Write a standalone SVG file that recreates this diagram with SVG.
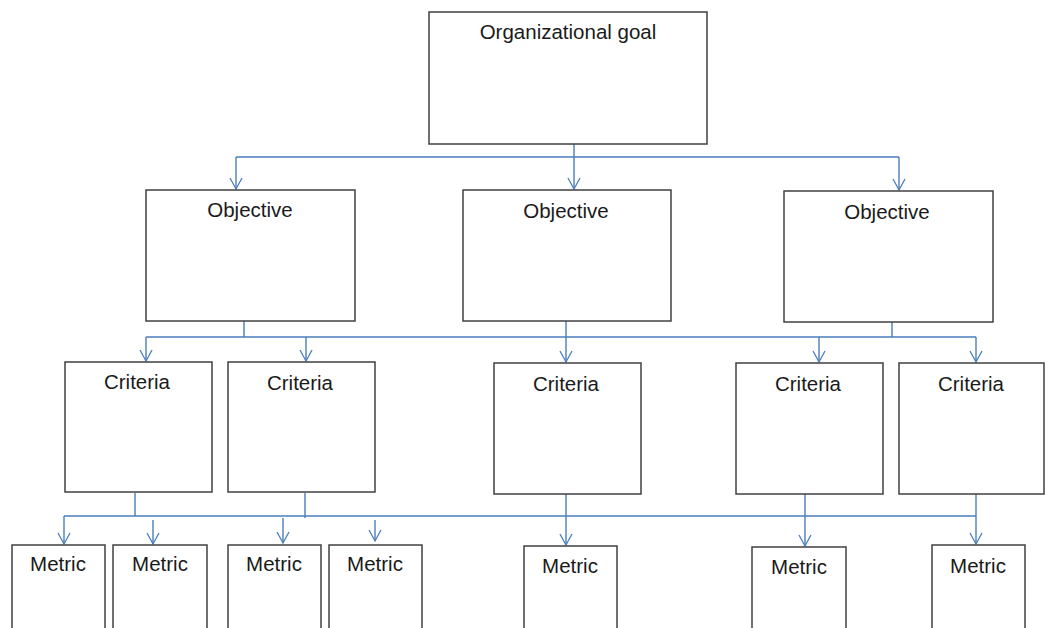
<svg xmlns="http://www.w3.org/2000/svg" width="1045" height="628" viewBox="0 0 1045 628">
  <defs>
    <!-- open V arrowhead, drawn along +x so orient="auto" points it down the line -->
    <marker id="arrow" markerWidth="14" markerHeight="14" refX="12" refY="7" orient="auto" markerUnits="userSpaceOnUse" viewBox="0 0 14 14">
      <polyline points="1,1 12,7 1,13" fill="none" stroke="#4a7ebb" stroke-width="1.3"/>
    </marker>
    <style>
      .box { fill: #ffffff; stroke: #404040; stroke-width: 1.5; }
      .lbl { font-family: "Liberation Sans", Arial, sans-serif; font-size: 20.5px; fill: #1a1a1a; text-anchor: middle; }
      .wire { fill: none; stroke: #4a7ebb; stroke-width: 1.4; }
      .arr { fill: none; stroke: #4a7ebb; stroke-width: 1.4; marker-end: url(#arrow); }
    </style>
  </defs>
  <rect width="1045" height="628" fill="#ffffff"/>

  <!-- connectors -->
  <g id="connectors">
    <!-- goal to objectives -->
    <path class="wire" d="M574,144 V157 M236,157 H899"/>
    <path class="arr" d="M236,157 V189"/>
    <path class="arr" d="M574,157 V189"/>
    <path class="arr" d="M899,157 V190"/>
    <!-- objectives to criteria -->
    <path class="wire" d="M244,321 V337 M566,321 V337 M892,322 V337 M146,337 H976"/>
    <path class="arr" d="M146,337 V361"/>
    <path class="arr" d="M306,337 V361"/>
    <path class="arr" d="M566,337 V362"/>
    <path class="arr" d="M819,337 V362"/>
    <path class="arr" d="M976,337 V362"/>
    <!-- criteria to metrics -->
    <path class="wire" d="M135,493 V516 M305,493 V518 M566,494 V516 M805,494 V516 M976,494 V516 M64,516 H976"/>
    <path class="arr" d="M64,516 V544"/>
    <path class="arr" d="M153,520 V544"/>
    <path class="arr" d="M283,518 V543"/>
    <path class="arr" d="M375,520 V541"/>
    <path class="arr" d="M566,516 V545"/>
    <path class="arr" d="M805,516 V546"/>
    <path class="arr" d="M976,516 V544"/>
  </g>

  <!-- top level -->
  <g id="goal">
    <rect class="box" x="429" y="12" width="278" height="132"/>
    <text class="lbl" x="568" y="39">Organizational goal</text>
  </g>

  <!-- objectives -->
  <g id="objective-1">
    <rect class="box" x="146" y="190" width="209" height="131"/>
    <text class="lbl" x="250" y="217">Objective</text>
  </g>
  <g id="objective-2">
    <rect class="box" x="463" y="190" width="208" height="131"/>
    <text class="lbl" x="566" y="218">Objective</text>
  </g>
  <g id="objective-3">
    <rect class="box" x="784" y="191" width="209" height="131"/>
    <text class="lbl" x="887" y="219">Objective</text>
  </g>

  <!-- criteria -->
  <g id="criteria-1">
    <rect class="box" x="65" y="362" width="147" height="130"/>
    <text class="lbl" x="137" y="389">Criteria</text>
  </g>
  <g id="criteria-2">
    <rect class="box" x="228" y="362" width="147" height="130"/>
    <text class="lbl" x="300" y="390">Criteria</text>
  </g>
  <g id="criteria-3">
    <rect class="box" x="494" y="363" width="147" height="131"/>
    <text class="lbl" x="566" y="391">Criteria</text>
  </g>
  <g id="criteria-4">
    <rect class="box" x="736" y="363" width="147" height="131"/>
    <text class="lbl" x="808" y="391">Criteria</text>
  </g>
  <g id="criteria-5">
    <rect class="box" x="899" y="363" width="145" height="131"/>
    <text class="lbl" x="971" y="391">Criteria</text>
  </g>

  <!-- metrics -->
  <g id="metric-1">
    <rect class="box" x="12" y="545" width="93" height="100"/>
    <text class="lbl" x="58" y="571">Metric</text>
  </g>
  <g id="metric-2">
    <rect class="box" x="113" y="545" width="94" height="100"/>
    <text class="lbl" x="160" y="571">Metric</text>
  </g>
  <g id="metric-3">
    <rect class="box" x="228" y="545" width="93" height="100"/>
    <text class="lbl" x="274" y="571">Metric</text>
  </g>
  <g id="metric-4">
    <rect class="box" x="329" y="545" width="93" height="100"/>
    <text class="lbl" x="375" y="571">Metric</text>
  </g>
  <g id="metric-5">
    <rect class="box" x="524" y="546" width="93" height="100"/>
    <text class="lbl" x="570" y="573">Metric</text>
  </g>
  <g id="metric-6">
    <rect class="box" x="752" y="547" width="94" height="100"/>
    <text class="lbl" x="799" y="574">Metric</text>
  </g>
  <g id="metric-7">
    <rect class="box" x="932" y="545" width="93" height="100"/>
    <text class="lbl" x="978" y="573">Metric</text>
  </g>
</svg>
